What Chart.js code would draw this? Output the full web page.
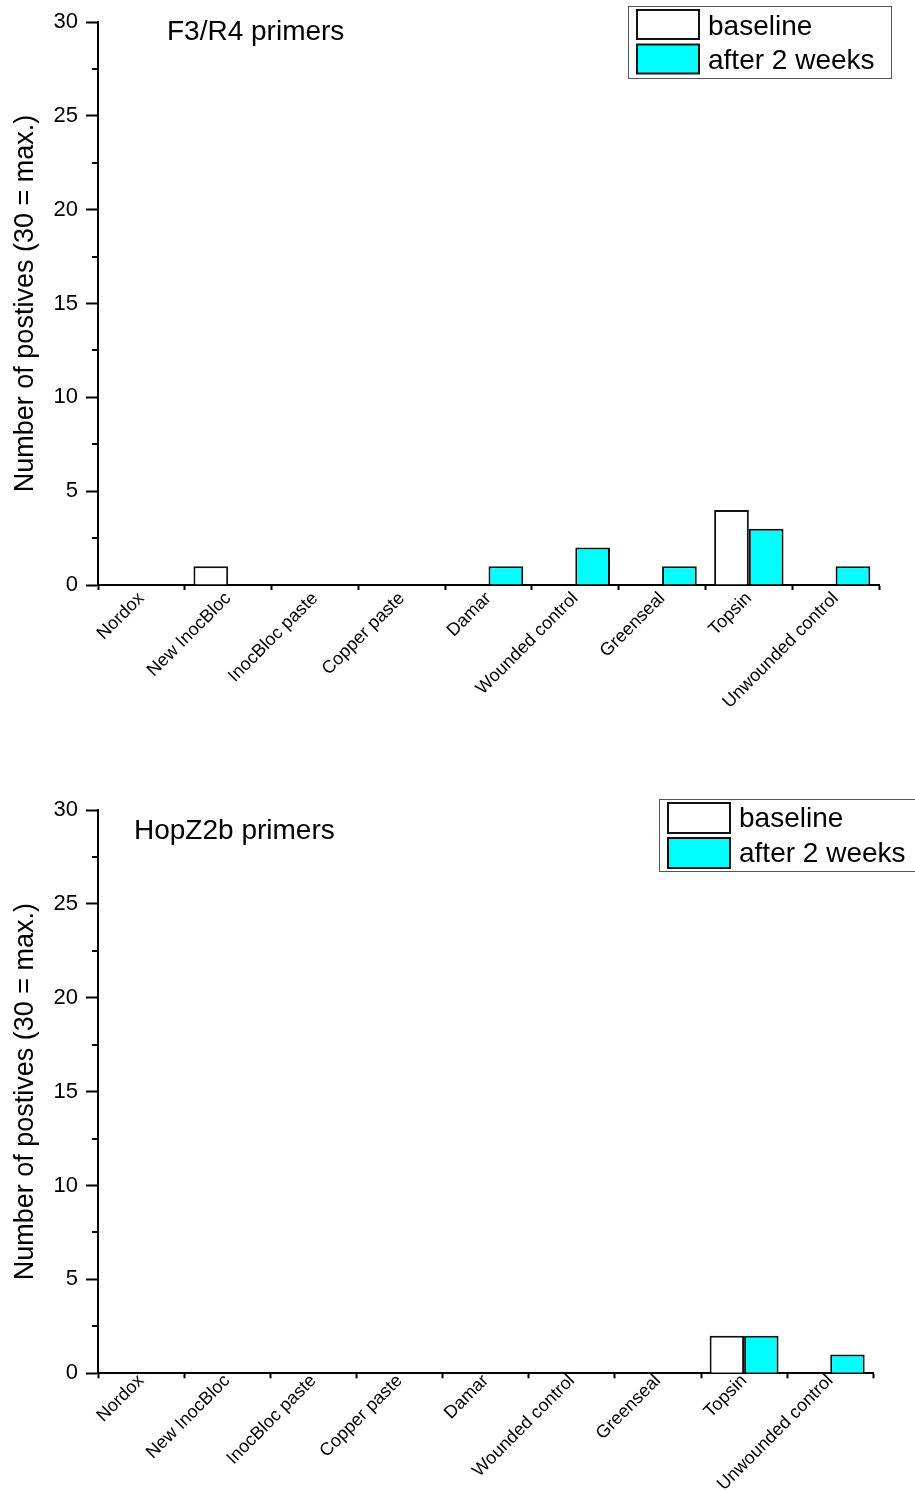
<!DOCTYPE html>
<html>
<head>
<meta charset="utf-8">
<title>Number of positives by treatment</title>
<script src="https://cdn.jsdelivr.net/npm/chart.js@4.4.1/dist/chart.umd.min.js"></script>
<style>
  html, body { margin: 0; padding: 0; background: #fff; }
  .panel { position: absolute; left: 0; width: 915px; height: 745px; }
  #p1 { top: 0; }
  #p2 { top: 745px; }
  canvas { display: block; }
</style>
</head>
<body>
<div class="panel" id="p1"><canvas id="c1" width="915" height="745"></canvas></div>
<div class="panel" id="p2"><canvas id="c2" width="915" height="745"></canvas></div>
<script>
// Treatments and counts of positive samples
const categories = ['Nordox', 'New InocBloc', 'InocBloc paste', 'Copper paste', 'Damar',
                    'Wounded control', 'Greenseal', 'Topsin', 'Unwounded control'];
const seriesNames = ['baseline', 'after 2 weeks'];

const f3r4Baseline   = [0, 1, 0, 0, 0, 0, 0, 4, 0];
const f3r4After      = [0, 0, 0, 0, 1, 2, 1, 3, 1];
const hopz2bBaseline = [0, 0, 0, 0, 0, 0, 0, 2, 0];
const hopz2bAfter    = [0, 0, 0, 0, 0, 0, 0, 2, 1];

const yTicks = [0, 5, 10, 15, 20, 25, 30];
const panelTitles = ['F3/R4 primers', 'HopZ2b primers'];
const yAxisTitle = 'Number of postives (30 = max.)';

const FONT = '"Liberation Sans", Arial, Helvetica, sans-serif';

// Panel caption, framed legend and short minor ticks on the value axis
const panelDecor = {
  id: 'panelDecor',
  afterDraw(chart, args, o) {
    const { ctx, chartArea } = chart;
    const y = chart.scales.y;
    ctx.save();

    // minor ticks halfway between labelled ticks
    ctx.strokeStyle = '#000';
    ctx.lineWidth = 2;
    y.ticks.forEach(t => {
      if (yTicks.includes(t.value)) return;
      const py = Math.round(y.getPixelForValue(t.value));
      ctx.beginPath();
      ctx.moveTo(chartArea.left - 6, py);
      ctx.lineTo(chartArea.left, py);
      ctx.stroke();
    });

    // caption
    ctx.fillStyle = '#000';
    ctx.font = '28px ' + FONT;
    ctx.textBaseline = 'alphabetic';
    ctx.textAlign = 'left';
    ctx.fillText(o.title, chartArea.left + o.titleDx, chartArea.top + o.titleDy);

    // legend
    const L = o.legend;
    ctx.strokeStyle = '#555';
    ctx.lineWidth = 1;
    ctx.strokeRect(L.x + 0.5, L.y + 0.5, L.w, L.h);
    chart.data.datasets.forEach((ds, i) => {
      const sy = L.y + L.pad + i * L.row;
      ctx.fillStyle = ds.backgroundColor;
      ctx.fillRect(L.x + L.sx, sy, L.sw, L.sh);
      ctx.strokeStyle = '#111';
      ctx.lineWidth = 2;
      ctx.strokeRect(L.x + L.sx, sy, L.sw, L.sh);
      ctx.fillStyle = '#000';
      ctx.fillText(ds.label, L.x + L.tx, sy + L.base);
    });
    ctx.restore();
  }
};

function makeChart(canvasId, baseline, after, cfg) {
  return new Chart(document.getElementById(canvasId), {
    type: 'bar',
    data: {
      labels: categories,
      datasets: [
        { label: seriesNames[0], data: baseline, backgroundColor: '#ffffff',
          borderColor: '#111', borderWidth: 2, categoryPercentage: 0.8, barPercentage: 1.0 },
        { label: seriesNames[1], data: after, backgroundColor: '#00ffff',
          borderColor: '#111', borderWidth: 2, categoryPercentage: 0.8, barPercentage: 1.0 }
      ]
    },
    options: {
      responsive: false,
      animation: false,
      devicePixelRatio: 1,
      layout: { padding: { top: cfg.padTop, right: cfg.padRight, bottom: cfg.padBottom, left: 0 } },
      plugins: {
        legend: { display: false },
        tooltip: { enabled: false },
        panelDecor: { title: cfg.title, titleDx: cfg.titleDx, titleDy: cfg.titleDy, legend: cfg.legend }
      },
      scales: {
        x: {
          grid: { display: true, drawOnChartArea: false, offset: true,
                  tickLength: 5, tickWidth: 2, tickColor: '#000' },
          border: { display: true, color: '#000', width: 2 },
          ticks: { autoSkip: false, maxRotation: 45, minRotation: 45, color: '#000',
                   padding: cfg.labelPad, font: { family: FONT, size: 18 } },
          afterFit(s) { s.height = cfg.xHeight; }
        },
        y: {
          min: 0, max: 30,
          afterBuildTicks(s) {
            const t = [];
            yTicks.forEach((v, i) => {
              t.push({ value: v });
              if (i < yTicks.length - 1) t.push({ value: (v + yTicks[i + 1]) / 2 });
            });
            s.ticks = t;
          },
          grid: { display: true, drawOnChartArea: false, tickLength: 12, tickWidth: 2,
                  tickColor: c => (c.tick && yTicks.includes(c.tick.value)) ? '#000' : 'rgba(0,0,0,0)' },
          border: { display: true, color: '#000', width: 2 },
          ticks: { color: '#000', padding: 8, font: { family: FONT, size: 22 },
                   callback: v => yTicks.includes(v) ? String(v) : '' },
          title: { display: true, text: yAxisTitle, color: '#000',
                   font: { family: FONT, size: 27 }, padding: { top: 9, bottom: 0 } },
          afterFit(s) { s.width = 98; }
        }
      }
    },
    plugins: [panelDecor]
  });
}

makeChart('c1', f3r4Baseline, f3r4After, {
  padTop: 22, padRight: 36, padBottom: 0, xHeight: 160, labelPad: -2,
  title: panelTitles[0], titleDx: 69, titleDy: 17.5,
  legend: { x: 628, y: 6, w: 263, h: 72, pad: 4, row: 34.5, sx: 9, sw: 62, sh: 29, tx: 80, base: 24.5 }
});

makeChart('c2', hopz2bBaseline, hopz2bAfter, {
  padTop: 65, padRight: 41.7, padBottom: 0, xHeight: 116.7, labelPad: -8,
  title: panelTitles[1], titleDx: 36, titleDy: 29,
  legend: { x: 659, y: 54, w: 270, h: 72, pad: 4, row: 35, sx: 9, sw: 62, sh: 30, tx: 80, base: 23.7 }
});
</script>
</body>
</html>
